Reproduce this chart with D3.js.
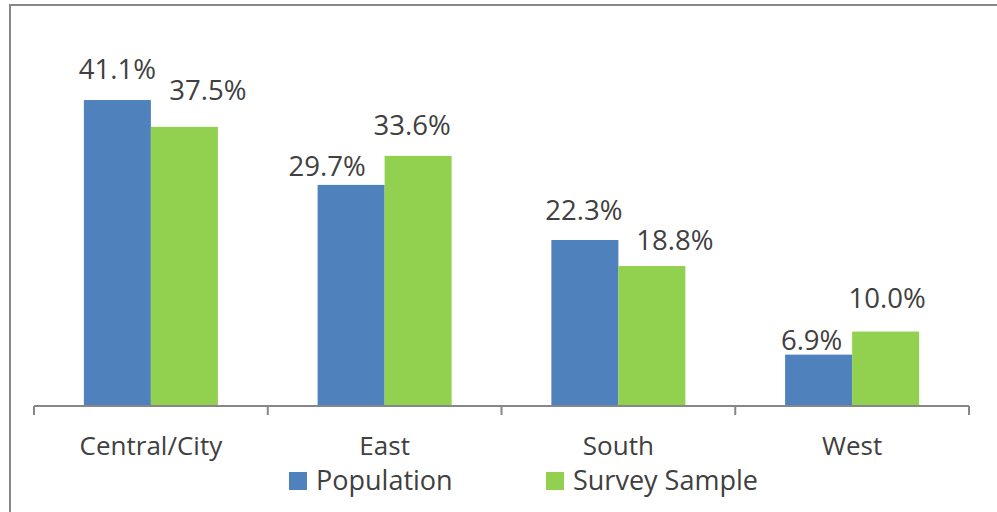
<!DOCTYPE html>
<html>
<head>
<meta charset="utf-8">
<script src="https://cdn.jsdelivr.net/npm/d3@7"></script>
<style>
  html, body { margin: 0; padding: 0; background: #fff; }
  svg { display: block; }
  text { font-family: "Open Sans", "Noto Sans", sans-serif; fill: #404040; }
</style>
</head>
<body>
<svg id="chart" width="997" height="512"></svg>
<script>
// Regional share: population vs. survey sample (percent)
const regions = ["Central/City", "East", "South", "West"];
const seriesNames = ["Population", "Survey Sample"];
const population = [41.1, 29.7, 22.3, 6.9];
const surveySample = [37.5, 33.6, 18.8, 10.0];
const seriesColors = ["#4F81BD", "#92D050"];

const svg = d3.select("#chart");
const W = 997, H = 512;

// chart frame
svg.append("rect")
  .attr("x", 10).attr("y", 5)
  .attr("width", W + 20).attr("height", H + 20)
  .attr("fill", "#fff")
  .attr("stroke", "#878787").attr("stroke-width", 2);

const plot = { left: 34, right: 969, top: 71, bottom: 406 };

const x = d3.scaleBand().domain(regions).range([plot.left, plot.right]).padding(0);
const groupW = 134;
const xs = d3.scaleBand().domain(seriesNames)
  .range([(x.bandwidth() - groupW) / 2, (x.bandwidth() + groupW) / 2]).padding(0);
const y = d3.scaleLinear().domain([0, 45]).range([plot.bottom, plot.top]);

const rows = regions.map((r, i) => ({
  region: r,
  values: [
    { name: seriesNames[0], v: population[i] },
    { name: seriesNames[1], v: surveySample[i] }
  ]
}));

// hand-placed label offsets (dx, gap above bar) so labels do not collide
const labelPlacement = {
  "Central/City": [[0, 21], [23.5, 27]],
  "East": [[-24, 9], [-6, 21]],
  "South": [[-1, 20], [23, 16]],
  "West": [[-7, 5], [1.5, 24]]
};

const groups = svg.append("g").selectAll("g")
  .data(rows).join("g")
  .attr("transform", d => `translate(${x(d.region)},0)`);

groups.selectAll("rect")
  .data(d => d.values).join("rect")
  .attr("x", d => xs(d.name))
  .attr("width", xs.bandwidth())
  .attr("y", d => y(d.v))
  .attr("height", d => y(0) - y(d.v))
  .attr("fill", (d, i) => seriesColors[i]);

groups.selectAll("text.val")
  .data(d => d.values.map((v, i) => ({ ...v, i, region: d.region })))
  .join("text")
  .attr("class", "val")
  .attr("x", d => xs(d.name) + xs.bandwidth() / 2 + labelPlacement[d.region][d.i][0])
  .attr("y", d => y(d.v) - labelPlacement[d.region][d.i][1])
  .attr("text-anchor", "middle")
  .style("font-size", "27.5px")
  .text(d => d3.format(".1f")(d.v) + "%");

// category axis
const axis = d3.axisBottom(x).tickSize(0).tickPadding(0);
const axG = svg.append("g").attr("transform", `translate(0,${plot.bottom})`).call(axis);
axG.select(".domain").remove();
axG.selectAll(".tick text").remove();
svg.append("line")
  .attr("x1", plot.left).attr("x2", plot.right)
  .attr("y1", plot.bottom).attr("y2", plot.bottom)
  .attr("stroke", "#878787").attr("stroke-width", 2);
const bounds = regions.map(r => x(r)).concat([x(regions[regions.length - 1]) + x.bandwidth()]);
svg.append("g").selectAll("line").data(bounds).join("line")
  .attr("x1", d => d).attr("x2", d => d)
  .attr("y1", plot.bottom).attr("y2", plot.bottom + 9)
  .attr("stroke", "#878787").attr("stroke-width", 2);
svg.append("g").selectAll("text").data(regions).join("text")
  .attr("x", d => x(d) + x.bandwidth() / 2)
  .attr("y", 455)
  .attr("text-anchor", "middle")
  .style("font-size", "26px")
  .text(d => d);

// legend
const legendX = [289, 546];
const leg = svg.append("g").selectAll("g").data(seriesNames).join("g")
  .attr("transform", (d, i) => `translate(${legendX[i]},472)`);
leg.append("rect").attr("width", 18).attr("height", 18)
  .attr("fill", (d, i) => seriesColors[i]);
leg.append("text").attr("x", 27).attr("y", 18)
  .style("font-size", "27px")
  .text(d => d);
</script>
</body>
</html>
